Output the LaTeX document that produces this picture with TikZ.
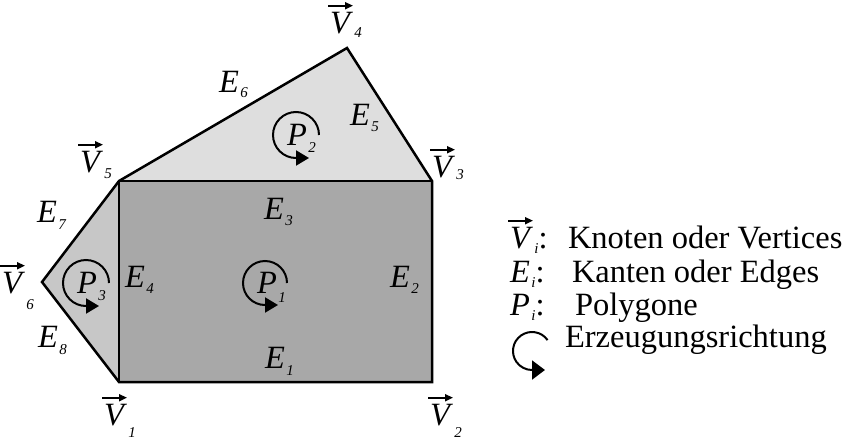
\documentclass[tikz,border=0pt]{standalone}
\usepackage{fontspec}
\setmainfont{Liberation Serif}
\usetikzlibrary{arrows.meta}
\newcommand{\sublbl}[3][6pt]{\textit{#2}\kern1.5pt\raisebox{-#1}{\fontsize{15}{15}\selectfont\textit{#3}}}
\begin{document}
\begin{tikzpicture}[x=1pt, y=1pt, font=\fontsize{32.5}{38}\selectfont, every node/.style={inner sep=0pt, outer sep=0pt, anchor=base west}, edge/.style={line width=2.5pt, line join=miter}, turn/.style={line width=2pt, -{Triangle[length=13pt, width=15pt]}}, vec/.style={line width=1.8pt, -{Triangle[length=8pt, width=7pt]}}]
    \useasboundingbox (0,0) rectangle (843,-439);
    % vertices
    \coordinate (V1) at (119,-382);
    \coordinate (V2) at (432,-382);
    \coordinate (V3) at (432,-181);
    \coordinate (V4) at (347,-48);
    \coordinate (V5) at (119,-181);
    \coordinate (V6) at (42,-282);
    % polygons
    \fill[black!13] (V5) -- (V4) -- (V3) -- cycle;
    \fill[black!22] (V1) -- (V6) -- (V5) -- cycle;
    \fill[black!34] (V1) rectangle (V3);
    \draw[edge] (V1) -- (V2) -- (V3) -- (V4) -- (V5) -- (V6) -- cycle;
    \draw[edge] (V5) -- (V3);
    \draw[edge] (V5) -- (V1);
    % vertex labels
    \node (lV1) at (104,-425) {\sublbl[12pt]{V}{1}};
    \node (lV2) at (430,-425) {\sublbl[12pt]{V}{2}};
    \node (lV3) at (432,-177) {\sublbl[2pt]{V}{3}};
    \node (lV4) at (330,-33) {\sublbl[4pt]{V}{4}};
    \node (lV5) at (80,-172) {\sublbl[6pt]{V}{5}};
    \node (lV6) at (2,-293) {\sublbl[16pt]{V}{6}};
    \foreach \v in {lV1,lV2,lV3,lV4,lV5,lV6}
        \draw[vec] ([shift={(-2,6)}]\v.north west) -- ++(25,0);
    % edge labels
    \node (lE1) at (265,-368) {\sublbl[7pt]{E}{1}};
    \node (lE2) at (390,-287) {\sublbl{E}{2}};
    \node (lE3) at (264,-219) {\sublbl{E}{3}};
    \node (lE4) at (125,-287) {\sublbl{E}{4}};
    \node (lE5) at (350,-125) {\sublbl{E}{5}};
    \node (lE6) at (219,-92) {\sublbl[5pt]{E}{6}};
    \node (lE7) at (37,-222) {\sublbl[7pt]{E}{7}};
    \node (lE8) at (38,-347) {\sublbl[7pt]{E}{8}};
    % polygon labels
    \node (lP1) at (257,-293) {\sublbl[9pt]{P}{1}};
    \node (lP2) at (287,-145) {\sublbl[7pt]{P}{2}};
    \node (lP3) at (77,-293) {\sublbl[7pt]{P}{3}};
    \coordinate (c1) at (265,-283);
    \coordinate (c2) at (296,-135);
    \coordinate (c3) at (86,-283);
    \draw[turn] (c1) ++(22,0) arc[start angle=0, end angle=270, radius=22] -- ++(13,0);
    \draw[turn] (c2) ++(23,0) arc[start angle=0, end angle=270, radius=23] -- ++(13,0);
    \draw[turn] (c3) ++(23,0) arc[start angle=0, end angle=270, radius=23] -- ++(13,0);
    % legend
    \node (kV) at (510,-248) {\sublbl[5pt]{V}{i}:};
    \draw[vec] ([shift={(-2,6)}]kV.north west) -- ++(25,0);
    \node (tV) at (568,-248) {Knoten oder Vertices};
    \node (kE) at (510,-282) {\sublbl[5pt]{E}{i}:};
    \node (tE) at (572,-282) {Kanten oder Edges};
    \node (kP) at (510,-315) {\sublbl[5pt]{P}{i}:};
    \node (tP) at (575,-315) {Polygone};
    \coordinate (cL) at (532,-351);
    \draw[turn, -{Triangle[length=13pt, width=19pt]}] (cL) ++(35:19) arc[start angle=35, end angle=270, radius=19] -- ++(13,0);
    \node (tL) at (565,-347) {Erzeugungsrichtung};
\end{tikzpicture}
\end{document}
